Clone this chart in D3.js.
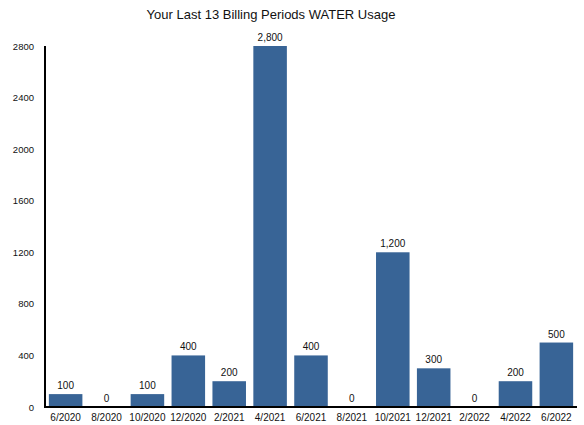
<!DOCTYPE html>
<html>
<head>
<meta charset="utf-8">
<script src="https://cdn.jsdelivr.net/npm/d3@7"></script>
<style>
  html, body { margin: 0; padding: 0; background: #fff; }
  svg { display: block; font-family: "Liberation Sans", Arial, sans-serif; }
</style>
</head>
<body>
<svg id="chart" width="584" height="425"></svg>
<script>
// Billing periods and water usage per period
const periods = ["6/2020", "8/2020", "10/2020", "12/2020", "2/2021", "4/2021", "6/2021",
                 "8/2021", "10/2021", "12/2021", "2/2022", "4/2022", "6/2022"];
const usage = [100, 0, 100, 400, 200, 2800, 400, 0, 1200, 300, 0, 200, 500];
const yTicks = [0, 400, 800, 1200, 1600, 2000, 2400, 2800];
const chartTitle = "Your Last 13 Billing Periods WATER Usage";

(function drawChart() {
  const svg = d3.select("#chart");
  const plotLeft = 45, plotRight = 577, plotTop = 46, plotBottom = 407;

  const x = d3.scaleBand().domain(periods).range([plotLeft + 1, plotRight - 1])
    .paddingInner(0.18).paddingOuter(0.07);
  const y = d3.scaleLinear().domain([0, 2800]).range([plotBottom, plotTop]);

  svg.append("text")
    .attr("x", 271).attr("y", 19)
    .attr("text-anchor", "middle")
    .attr("font-size", 13).attr("fill", "#111")
    .text(chartTitle);

  // Bars
  svg.append("g").selectAll("rect").data(usage).join("rect")
    .attr("x", (d, i) => x(periods[i]))
    .attr("width", x.bandwidth())
    .attr("y", d => y(d))
    .attr("height", d => y(0) - y(d))
    .attr("fill", "#386496");

  // Value labels
  const fmt = d3.format(",");
  svg.append("g").selectAll("text").data(usage).join("text")
    .attr("x", (d, i) => x(periods[i]) + x.bandwidth() / 2)
    .attr("y", d => y(d) - 5)
    .attr("text-anchor", "middle")
    .attr("font-size", 10).attr("fill", "#111")
    .text(d => fmt(d));

  // Y axis
  const yAxis = d3.axisLeft(y).tickValues(yTicks).tickSize(0).tickPadding(11)
    .tickFormat(d3.format("d"));
  const gy = svg.append("g").attr("transform", `translate(${plotLeft},0)`).call(yAxis);
  gy.select(".domain").remove();
  gy.selectAll("text").attr("font-size", 9.5).attr("fill", "#111")
    .attr("font-family", "Liberation Sans, Arial, sans-serif");

  // X axis labels
  const xAxis = d3.axisBottom(x).tickSize(0).tickPadding(7);
  const gx = svg.append("g").attr("transform", `translate(0,${plotBottom})`).call(xAxis);
  gx.select(".domain").remove();
  gx.selectAll("text").attr("font-size", 10).attr("fill", "#111")
    .attr("font-family", "Liberation Sans, Arial, sans-serif");

  // Axis lines
  svg.append("line").attr("x1", plotLeft).attr("x2", plotLeft)
    .attr("y1", plotTop).attr("y2", plotBottom + 1)
    .attr("stroke", "#000").attr("stroke-width", 2);
  svg.append("line").attr("x1", plotLeft).attr("x2", plotRight)
    .attr("y1", plotBottom).attr("y2", plotBottom)
    .attr("stroke", "#000").attr("stroke-width", 2);
})();
</script>
</body>
</html>
